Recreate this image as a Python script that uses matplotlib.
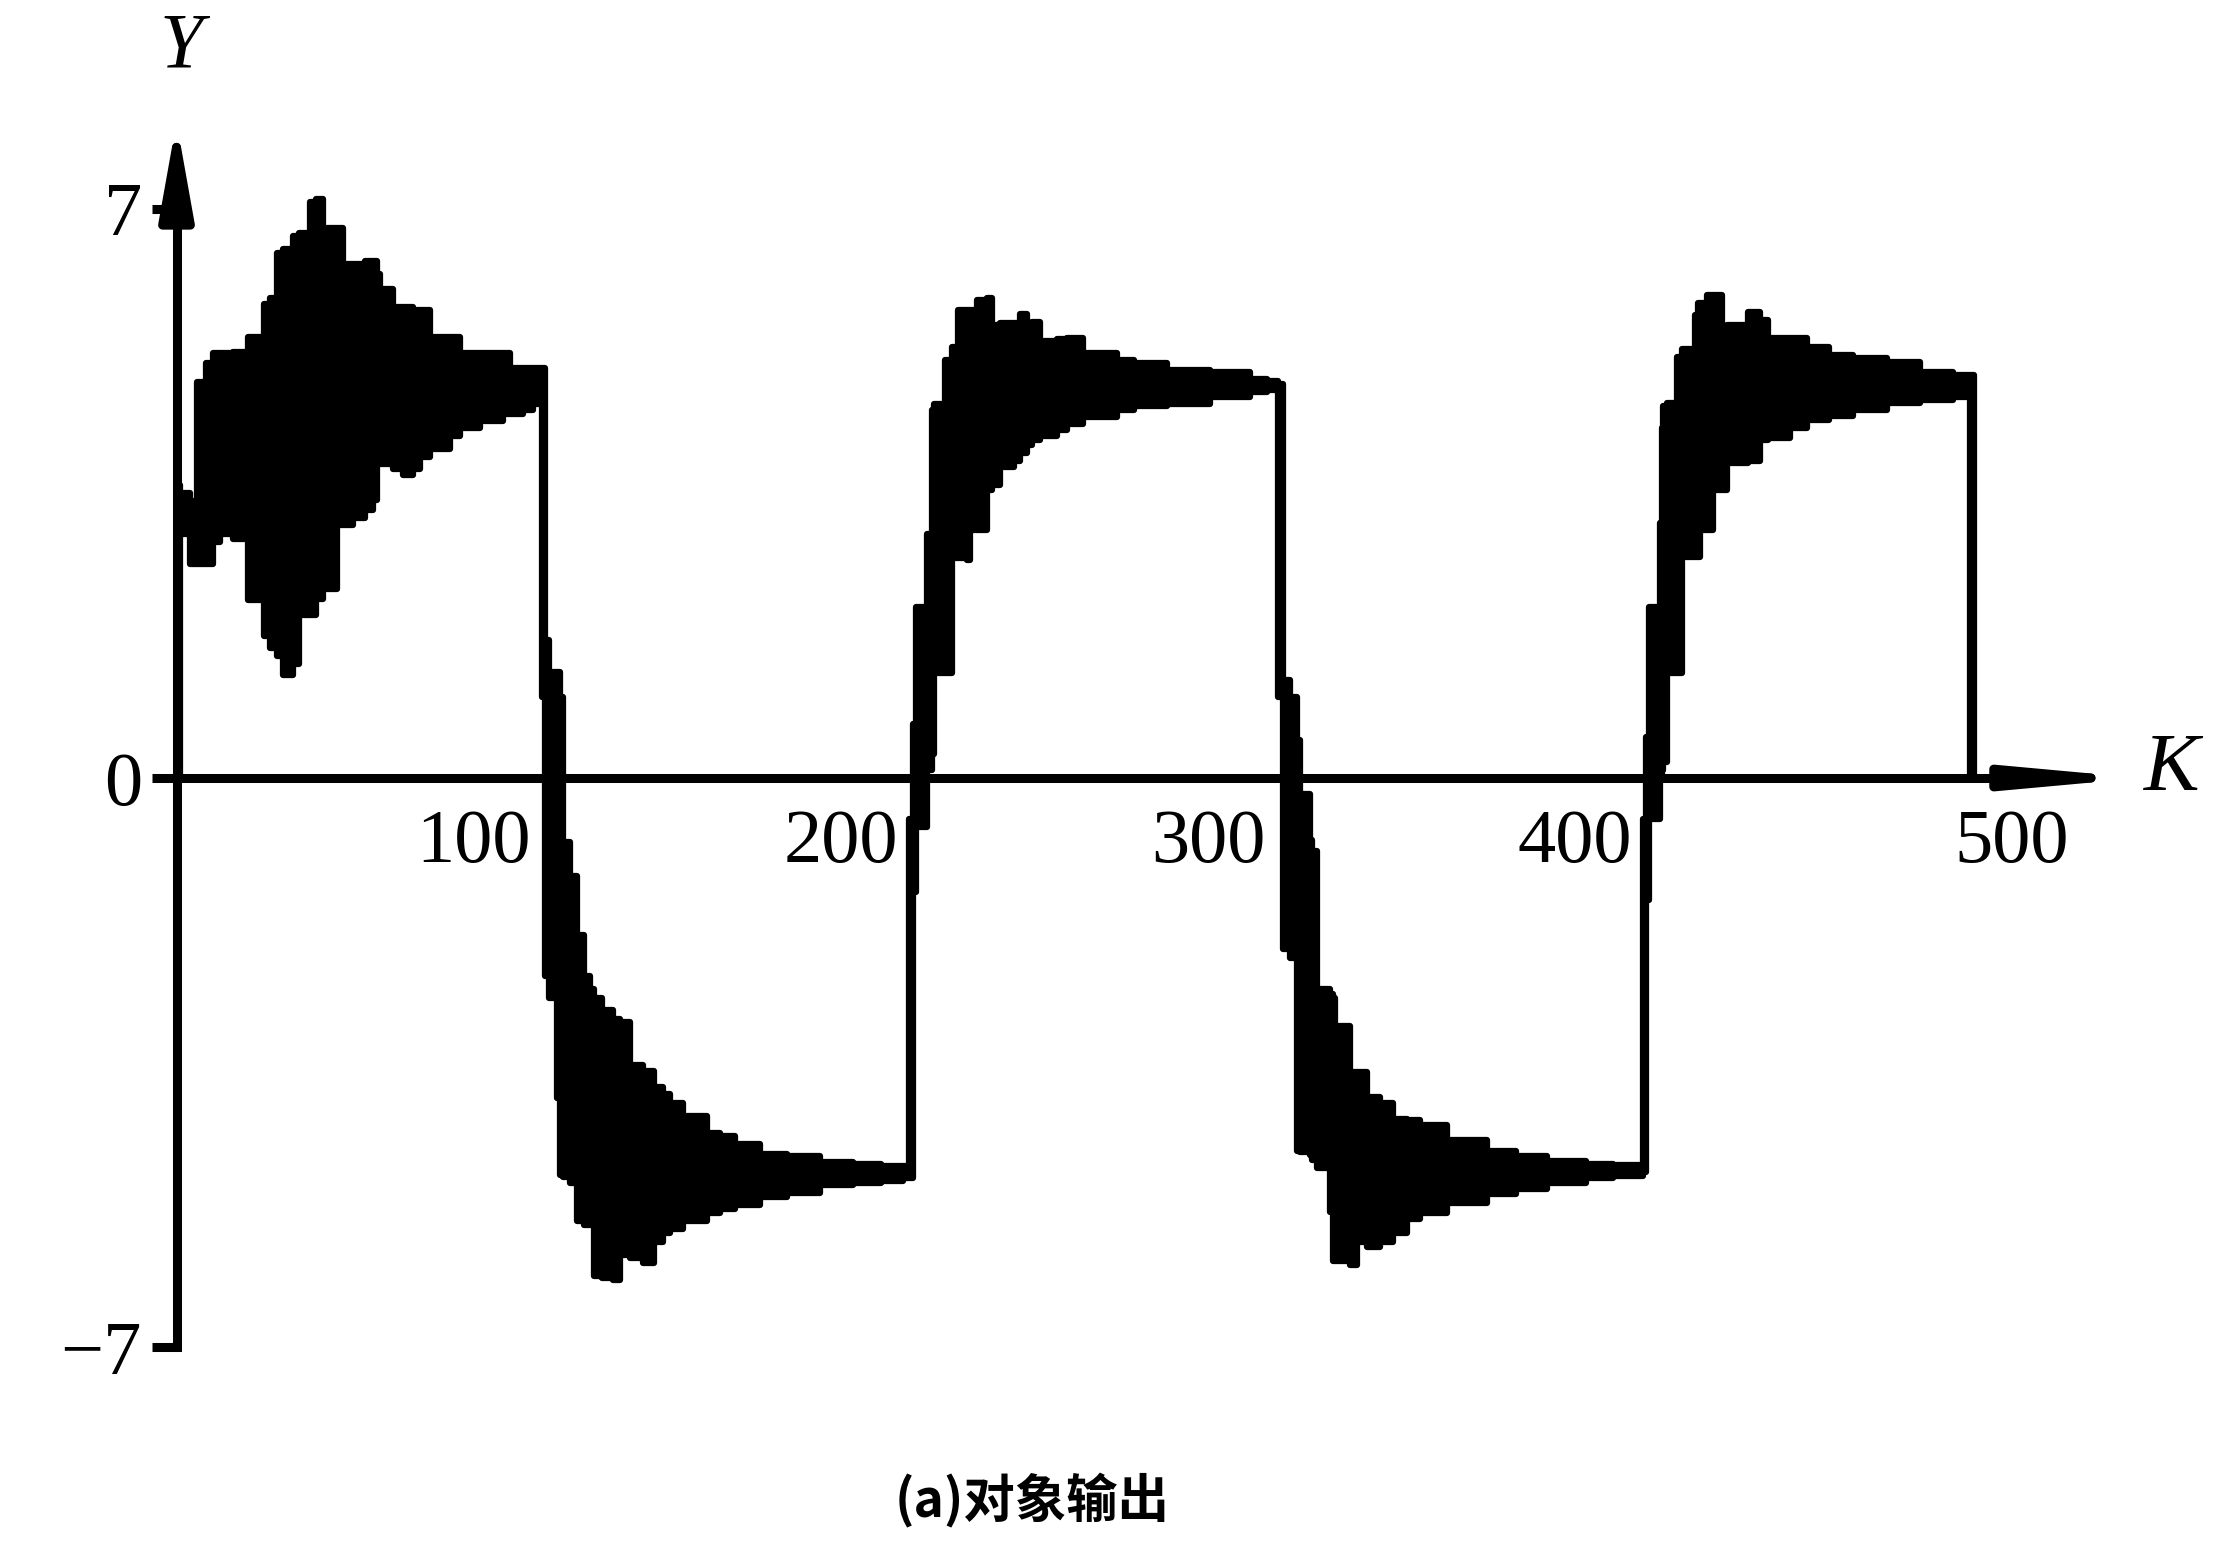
import numpy as np
import matplotlib.pyplot as plt
from matplotlib.transforms import ScaledTranslation

plt.rcParams['font.family'] = ['Liberation Serif', 'DejaVu Serif']

# output band: for each step start K, the lowest and highest Y
# first high half-period (start-up)
k1 = [0, 1, 3.7, 5.5, 8, 10, 11.8, 15.5, 19.6, 23.7, 25.5, 27.3, 29.1, 31.8, 33.5, 36.4, 38, 40, 43.6, 45.4,
      48.2, 51.3, 53.6, 54.5, 55.4, 59.1, 61.8, 64.5, 66.3, 69, 74.5, 77.2, 82.7, 89, 90.8, 94.5, 97]
lo1 = [0, 3.0, 2.63, 2.63, 2.63, 2.9, 3.0, 2.94, 2.19, 1.75, 1.6, 1.5, 1.27, 1.4, 2.01, 2.01, 2.2, 2.32, 3.11, 3.11,
       3.2, 3.3, 3.42, 3.86, 3.86, 3.8, 3.73, 3.8, 3.95, 4.05, 4.21, 4.3, 4.39, 4.47, 4.47, 4.52, 4.6]
hi1 = [3.6, 3.5, 3.4, 4.87, 5.1, 5.22, 5.22, 5.24, 5.42, 5.83, 5.9, 6.45, 6.5, 6.67, 6.7, 7.08, 7.12, 6.76, 6.76, 6.32,
       6.32, 6.36, 6.36, 6.2, 6.01, 5.79, 5.79, 5.75, 5.75, 5.42, 5.42, 5.22, 5.22, 5.22, 5.04, 5.04, 5.04]

# first low half-period
k2 = [99.5, 100.3, 101.5, 103.6, 104.5, 105.4, 107.2, 109, 110.9, 112.7, 113.6, 116, 119, 120.8, 123.6, 127.2,
      130, 132.6, 134.5, 138, 144.4, 148.1, 152, 159, 166.2, 175.3, 184.4, 192, 198]
lo2 = [1.0, -2.44, -2.7, -3.94, -4.88, -4.9, -4.98, -5.45, -5.5, -5.5, -6.12, -6.15, -6.17, -5.86, -5.9, -5.96,
       -5.7, -5.6, -5.55, -5.45, -5.35, -5.3, -5.25, -5.15, -5.1, -5.0, -4.98, -4.95, -4.92]
hi2 = [5.04, 1.7, 1.3, 1.3, 1.0, -0.79, -1.2, -1.93, -2.44, -2.6, -2.7, -2.85, -2.96, -3.0, -3.53, -3.6,
       -3.8, -3.89, -4.0, -4.15, -4.36, -4.4, -4.5, -4.62, -4.65, -4.72, -4.75, -4.77, -4.77]

# second high half-period
k3 = [199.5, 200.5, 201.3, 204.4, 205.7, 206.2, 209.4, 211.2, 213, 215.3, 216.2, 218, 220.7, 222.1, 224.3, 228,
      229.8, 231.6, 233, 235.2, 239.8, 242.5, 247, 256.1, 260.7, 269.7, 281.5, 292.4, 297]
lo3 = [-4.92, -1.4, -0.6, 0.1, 0.3, 1.29, 1.29, 2.7, 2.7, 2.68, 3.05, 3.05, 3.54, 3.6, 3.83, 3.9,
       4.0, 4.1, 4.16, 4.2, 4.28, 4.35, 4.44, 4.52, 4.57, 4.6, 4.68, 4.75, 4.77]
hi3 = [-0.5, 0.67, 2.1, 3.0, 4.52, 4.6, 5.14, 5.3, 5.75, 5.75, 5.75, 5.88, 5.9, 5.57, 5.59, 5.59,
       5.71, 5.55, 5.61, 5.37, 5.4, 5.41, 5.22, 5.14, 5.1, 5.02, 4.99, 4.91, 4.88]

# second low half-period
k4 = [300, 301.3, 303.3, 305.1, 306, 308.8, 309.2, 310.6, 314.2, 315.1, 315.6, 319.7, 321.5, 324.2, 327.8,
      331.5, 335.1, 338.7, 346, 356.9, 365, 373.2, 384, 391.4]
lo4 = [1.0, -2.1, -2.21, -4.58, -4.6, -4.63, -4.7, -4.8, -5.33, -5.94, -5.94, -5.99, -5.7, -5.77, -5.7,
       -5.6, -5.42, -5.35, -5.22, -5.11, -5.05, -4.98, -4.92, -4.89]
hi4 = [4.85, 1.2, 1.0, 0.47, -0.2, -0.76, -0.9, -2.6, -2.65, -2.7, -3.05, -3.62, -3.62, -3.92, -4.0,
       -4.19, -4.2, -4.27, -4.45, -4.58, -4.65, -4.71, -4.74, -4.76]

# third high half-period, then back to zero
k5 = [399.5, 400.3, 401, 404.1, 404.6, 405, 405.9, 408.6, 410, 413.6, 414.5, 415, 417, 418.6, 420.9, 422.3,
      428.2, 431.3, 433.6, 439.5, 444.1, 450, 456.8, 465.8, 474.9, 484, 488.5, 489.5]
lo5 = [-4.85, -1.5, -0.5, 0.0, 0.1, 0.2, 1.29, 1.29, 2.72, 2.72, 2.72, 3.05, 3.05, 3.54, 3.54, 3.87,
       3.9, 4.15, 4.18, 4.3, 4.4, 4.45, 4.52, 4.61, 4.65, 4.69, 0.0, 0.0]
hi5 = [-0.5, 0.5, 2.1, 3.13, 4.3, 4.57, 4.61, 5.18, 5.28, 5.69, 5.84, 5.84, 5.94, 5.94, 5.55, 5.57,
       5.73, 5.63, 5.41, 5.41, 5.3, 5.2, 5.16, 5.12, 4.99, 4.95, 4.95, 0.0]

x_ticks = [100, 200, 300, 400, 500]
x_tick_labels = ['100', '200', '300', '400', '500']
y_ticks = [-7, 0, 7]
y_tick_labels = ['\u22127', '0', '7']

k = np.concatenate([k1, k2, k3, k4, k5])
lo = np.concatenate([lo1, lo2, lo3, lo4, lo5])
hi = np.concatenate([hi1, hi2, hi3, hi4, hi5])

fig = plt.figure(figsize=(22.14, 15.44), dpi=100)
ax = fig.add_axes([0, 0, 1, 1])
ax.set_xlim(-48.08, 555.0)
ax.set_ylim(-9.418, 9.566)

ax.fill_between(k, lo, hi, step='post', color='black', linewidth=0)
ax.step(k, hi, where='post', color='black', lw=4.5)
ax.step(k, lo, where='post', color='black', lw=4.5)

# axes drawn through the origin
for side in ['top', 'right']:
    ax.spines[side].set_visible(False)
ax.spines['left'].set_position(('data', 0))
ax.spines['bottom'].set_position(('data', 0))
ax.spines['left'].set_bounds(-7, 7.3)
ax.spines['bottom'].set_bounds(0, 505)
for side in ['left', 'bottom']:
    ax.spines[side].set_linewidth(6.5)
    ax.spines[side].set_capstyle('projecting')

ax.set_xticks(x_ticks, x_tick_labels)
ax.set_yticks(y_ticks, y_tick_labels)
ax.tick_params(axis='x', length=0, pad=22, labelsize=55)
ax.tick_params(axis='y', length=18, width=6.5, pad=7, labelsize=55, direction='out')
shift = ScaledTranslation(-9 / 72, 0, fig.dpi_scale_trans)
for lab in ax.get_xticklabels()[:4]:
    lab.set_horizontalalignment('right')
    lab.set_transform(lab.get_transform() + shift)

ax.annotate('', xy=(0, 8.07), xytext=(0, 6.9),
            arrowprops=dict(arrowstyle='-|>,head_length=2.8,head_width=0.5', color='black',
                            lw=6.5, mutation_scale=20, shrinkA=0, shrinkB=0))
ax.annotate('', xy=(535, 0), xytext=(498, 0),
            arrowprops=dict(arrowstyle='-|>,head_length=3.5,head_width=0.32', color='black',
                            lw=6.5, mutation_scale=20, shrinkA=0, shrinkB=0))

ax.text(1.2, 8.98, 'Y', fontsize=56, style='italic', ha='center', va='center')
ax.text(536, 0.1, 'K', fontsize=60, style='italic', ha='left', va='center')
ax.text(233, -8.88, '(a)对象输出', fontsize=37, fontweight='bold',
        family=['Noto Sans CJK SC', 'DejaVu Sans'], ha='center', va='center')

fig.savefig('out.png', dpi=100)
